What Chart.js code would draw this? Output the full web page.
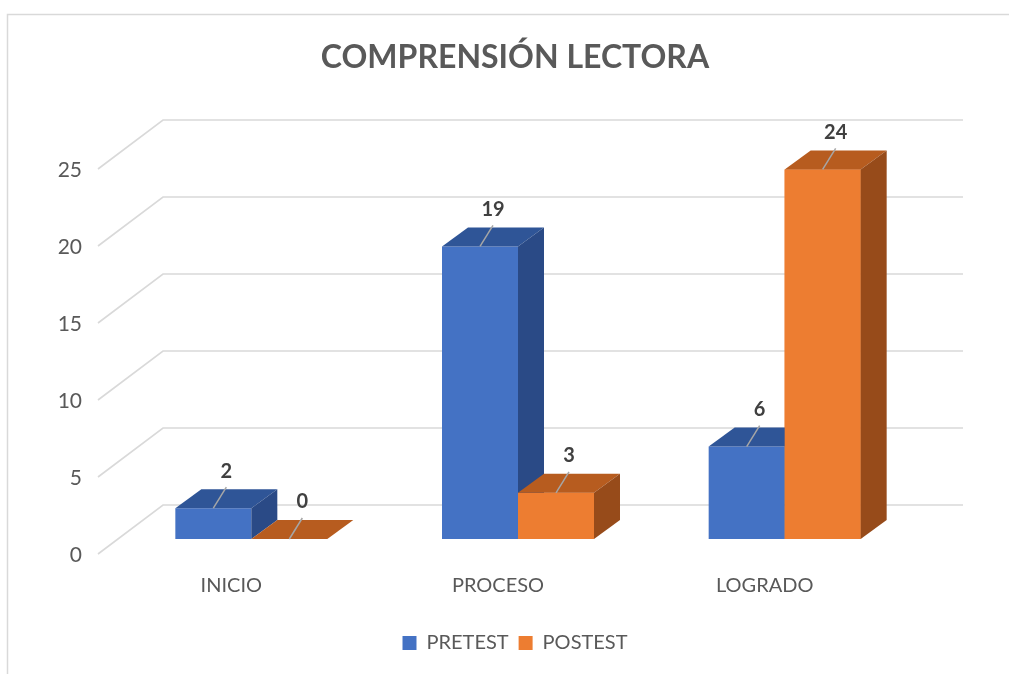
<!DOCTYPE html>
<html><head><meta charset="utf-8">
<script src="https://cdn.jsdelivr.net/npm/chart.js@4"></script>
<style>html,body{margin:0;padding:0;background:#fff;} canvas{display:block;}</style>
</head><body>
<canvas id="c" width="1009" height="674"></canvas>
<script>
const categories = ['INICIO', 'PROCESO', 'LOGRADO'];
const seriesNames = ['PRETEST', 'POSTEST'];
const pretest = [2, 19, 6];
const postest = [0, 3, 24];
const yTicks = [0, 5, 10, 15, 20, 25];
const titleText = 'COMPRENSIÓN LECTORA';

const FRONT = ['#4472C4', '#ED7D31'];
const TOPC = ['#2F5597', '#B75C1F'];
const SIDEC = ['#2A4A86', '#974B1A'];
const BAR_DEPTH = {dx: 26, dy: -19};
const FLOOR_FRONT = {dx: -20, dy: 15};
const BACK_WALL = {dx: 45, dy: -34};
const GRID_COLOR = '#d9d9d9';
const FONT = 'Lato';

Chart.defaults.font.family = FONT;
Chart.defaults.color = '#595959';

function poly(ctx, pts, color) {
  ctx.beginPath();
  ctx.moveTo(pts[0][0], pts[0][1]);
  for (let i = 1; i < pts.length; i++) ctx.lineTo(pts[i][0], pts[i][1]);
  ctx.closePath();
  ctx.fillStyle = color;
  ctx.fill();
}

const threeD = {
  id: 'threeD',
  beforeDraw(chart) {
    const ctx = chart.ctx;
    ctx.save();
    ctx.strokeStyle = GRID_COLOR;
    ctx.lineWidth = 1.5;
    ctx.beginPath();
    ctx.moveTo(7.5, chart.height);
    ctx.lineTo(7.5, 14.5);
    ctx.lineTo(chart.width, 14.5);
    ctx.stroke();
    ctx.restore();
  },
  beforeDatasetsDraw(chart) {
    const ctx = chart.ctx, ys = chart.scales.y, area = chart.chartArea;
    ctx.save();
    ctx.strokeStyle = GRID_COLOR;
    ctx.lineWidth = 1.6;
    yTicks.forEach(v => {
      const py = ys.getPixelForValue(v);
      ctx.beginPath();
      ctx.moveTo(area.left + FLOOR_FRONT.dx, py + FLOOR_FRONT.dy);
      ctx.lineTo(area.left + BACK_WALL.dx, py + BACK_WALL.dy);
      ctx.lineTo(area.right + BACK_WALL.dx, py + BACK_WALL.dy);
      ctx.stroke();
    });
    ctx.restore();
  },
  afterDatasetsDraw(chart) {
    const ctx = chart.ctx;
    ctx.save();
    const faces = (di) => {
      const meta = chart.getDatasetMeta(di);
      meta.data.forEach(el => {
        const {x, y, base, width} = el.getProps(['x', 'y', 'base', 'width'], true);
        const l = x - width / 2, r = x + width / 2;
        const dx = BAR_DEPTH.dx, dy = BAR_DEPTH.dy;
        poly(ctx, [[l, y], [r, y], [r + dx, y + dy], [l + dx, y + dy]], TOPC[di]);
        if (base - y > 0.5) {
          poly(ctx, [[r, y], [r + dx, y + dy], [r + dx, base + dy], [r, base]], SIDEC[di]);
        }
      });
    };
    faces(0);
    chart.getDatasetMeta(1).data.forEach(el => el.draw(ctx));
    faces(1);
    [0, 1].forEach(di => {
      const meta = chart.getDatasetMeta(di);
      const vals = chart.data.datasets[di].data;
      meta.data.forEach((el, i) => {
        const {x, y} = el.getProps(['x', 'y'], true);
        ctx.strokeStyle = '#a6a6a6';
        ctx.lineWidth = 1.5;
        ctx.beginPath();
        ctx.moveTo(x, y);
        ctx.lineTo(x + 13, y - 21);
        ctx.stroke();
        ctx.fillStyle = '#404040';
        ctx.font = 'bold 20px ' + FONT;
        ctx.textAlign = 'center';
        ctx.textBaseline = 'middle';
        ctx.fillText(String(vals[i]), x + 13, y - 37);
      });
    });
    ctx.restore();
  }
};

new Chart(document.getElementById('c'), {
  type: 'bar',
  data: {
    labels: categories,
    datasets: [
      {label: seriesNames[0], data: pretest, backgroundColor: FRONT[0]},
      {label: seriesNames[1], data: postest, backgroundColor: FRONT[1]}
    ]
  },
  options: {
    responsive: false,
    animation: false,
    devicePixelRatio: 1,
    events: [],
    layout: {padding: {left: 21, right: 0, top: 0, bottom: 11}},
    datasets: {bar: {barPercentage: 1, categoryPercentage: 0.57}},
    plugins: {
      title: {
        display: true, text: titleText, color: '#595959',
        font: {size: 32, weight: 'bold', family: FONT, lineHeight: 1.2},
        padding: {top: 38, bottom: 77.6}
      },
      legend: {
        position: 'bottom',
        labels: {boxWidth: 14, boxHeight: 14, padding: 10, color: '#595959', font: {size: 20, family: FONT}}
      },
      tooltip: {enabled: false}
    },
    scales: {
      x: {
        grid: {display: false, drawTicks: false},
        border: {display: false},
        ticks: {color: '#595959', font: {size: 20}, padding: 35, labelOffset: -20},
        afterFit(s) { s.height = 84; }
      },
      y: {
        min: 0, max: 25,
        grid: {display: false, drawTicks: false},
        border: {display: false},
        ticks: {color: '#595959', font: {size: 21}, padding: 36, labelOffset: 16},
        afterBuildTicks(s) { s.ticks = yTicks.map(v => ({value: v})); },
        afterFit(s) { s.width = 97; }
      },
      yR: {
        position: 'right', display: true,
        grid: {display: false, drawTicks: false},
        border: {display: false},
        ticks: {display: false},
        afterFit(s) { s.width = 91; }
      }
    }
  },
  plugins: [threeD]
});
</script>
</body></html>
